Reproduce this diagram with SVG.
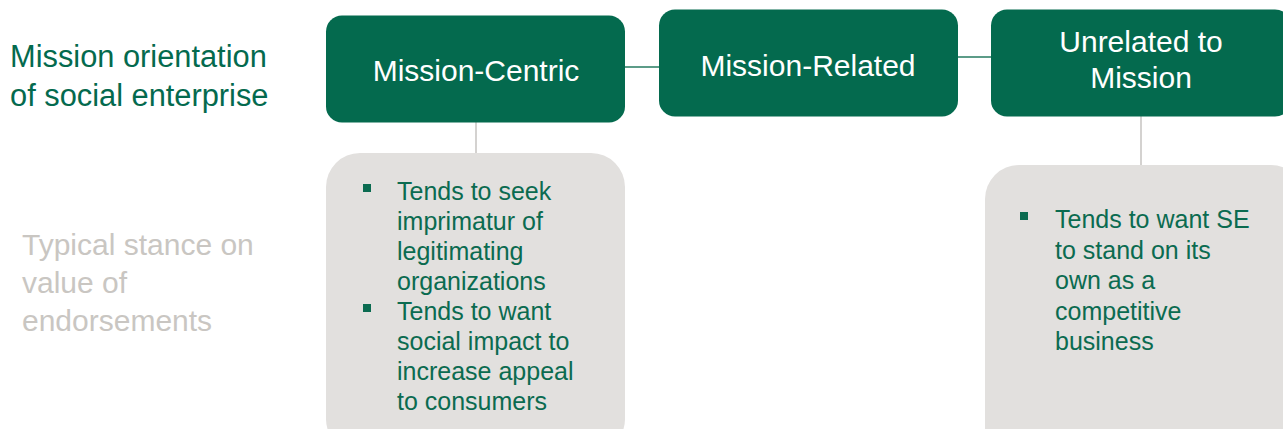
<svg xmlns="http://www.w3.org/2000/svg" width="1283" height="429" viewBox="0 0 1283 429">
  <style>
    .head { fill: #046a4e; }
    .headtxt { font-family: "Liberation Sans", Arial, sans-serif; font-size: 30px; fill: #ffffff; text-anchor: middle; }
    .card { fill: #e2e0de; }
    .bullet { font-family: "Liberation Sans", Arial, sans-serif; font-size: 25px; fill: #0b6b50; }
    .dot { fill: #0b6b50; }
    .rowlabel { font-family: "Liberation Sans", Arial, sans-serif; font-size: 30px; }
    .link-h { stroke: #5c9c88; stroke-width: 2; fill: none; }
    .link-v { stroke: #c6c3c0; stroke-width: 1.5; fill: none; }
  </style>

  <rect width="1283" height="429" fill="#ffffff"/>

  <!-- connectors -->
  <g id="connectors">
    <line class="link-h" x1="625" y1="67" x2="659" y2="67"/>
    <line class="link-h" x1="958" y1="57" x2="991" y2="57"/>
    <line class="link-v" x1="476" y1="122" x2="476" y2="153"/>
    <line class="link-v" x1="1141" y1="116" x2="1141" y2="165"/>
  </g>

  <!-- row labels -->
  <g id="label-mission" class="rowlabel" fill="#046a4e" style="font-size:30.8px">
    <text x="10" y="67">Mission orientation</text>
    <text x="10" y="106">of social enterprise</text>
  </g>
  <g id="label-stance" class="rowlabel" fill="#c9c6c2">
    <text x="22" y="255">Typical stance on</text>
    <text x="22" y="293">value of</text>
    <text x="22" y="331">endorsements</text>
  </g>

  <!-- category headers -->
  <g id="node-centric">
    <rect class="head" x="326" y="15.5" width="299" height="107" rx="16"/>
    <text class="headtxt" x="476" y="81">Mission-Centric</text>
  </g>
  <g id="node-related">
    <rect class="head" x="659" y="9.5" width="299" height="107" rx="16"/>
    <text class="headtxt" x="808" y="76">Mission-Related</text>
  </g>
  <g id="node-unrelated">
    <rect class="head" x="991" y="9.5" width="300" height="107" rx="16"/>
    <text class="headtxt" x="1141" y="52">Unrelated to</text>
    <text class="headtxt" x="1141" y="88">Mission</text>
  </g>

  <!-- endorsement stance cards -->
  <g id="card-centric">
    <rect class="card" x="326" y="153" width="299" height="300" rx="34"/>
    <rect class="dot" x="363" y="184" width="8" height="8"/>
    <rect class="dot" x="363" y="304" width="8" height="8"/>
    <g class="bullet">
      <text x="397" y="200">Tends to seek</text>
      <text x="397" y="230">imprimatur of</text>
      <text x="397" y="260">legitimating</text>
      <text x="397" y="290">organizations</text>
      <text x="397" y="320">Tends to want</text>
      <text x="397" y="350">social impact to</text>
      <text x="397" y="380">increase appeal</text>
      <text x="397" y="410">to consumers</text>
    </g>
  </g>
  <g id="card-unrelated">
    <rect class="card" x="985" y="165" width="320" height="300" rx="34"/>
    <rect class="dot" x="1020" y="212" width="8" height="8"/>
    <g class="bullet">
      <text x="1055" y="228">Tends to want SE</text>
      <text x="1055" y="259">to stand on its</text>
      <text x="1055" y="289">own as a</text>
      <text x="1055" y="320">competitive</text>
      <text x="1055" y="350">business</text>
    </g>
  </g>
</svg>
